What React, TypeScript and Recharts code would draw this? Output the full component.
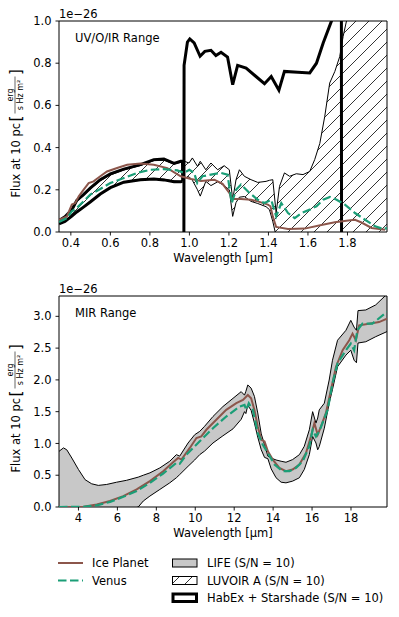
import React from "react";
import { ComposedChart, Area, Line, XAxis, YAxis, ReferenceArea } from "recharts";

const FONT = "'DejaVu Sans', Verdana, sans-serif";
const BROWN = "#8c564b";
const GREEN = "#1b9e77";
const GRAY = "#c8c8c8";

// ---- UV/O/IR panel (wavelength in µm, flux in units of 1e-26) ----
const habexVisWl = [0.34, 0.37, 0.405, 0.43, 0.464, 0.498, 0.549, 0.6, 0.668, 0.752, 0.82, 0.871, 0.922, 0.956, 0.965, 0.966];
const habexVisLo = [0.039, 0.05, 0.075, 0.095, 0.118, 0.142, 0.18, 0.21, 0.236, 0.248, 0.251, 0.247, 0.238, 0.238, 0.24, 0.24];
const habexVisHi = [0.055, 0.072, 0.105, 0.15, 0.177, 0.208, 0.248, 0.276, 0.298, 0.319, 0.343, 0.346, 0.325, 0.335, 0.335, 0.24];

const habexNirWl = [0.972, 0.973, 0.99, 1.002, 1.024, 1.054, 1.078, 1.109, 1.134, 1.16, 1.193, 1.219, 1.244, 1.287, 1.337, 1.38, 1.414, 1.453, 1.481, 1.549, 1.609, 1.643, 1.677, 1.719, 1.745, 1.769, 1.77];
const habexNirLo = [-0.05, -0.05, -0.05, -0.05, -0.05, -0.05, -0.05, -0.05, -0.05, -0.05, -0.05, -0.05, -0.05, -0.05, -0.05, -0.05, -0.05, -0.05, -0.05, -0.05, -0.05, -0.05, -0.05, -0.05, -0.05, -0.05, -0.05];
const habexNirHi = [-0.05, 0.79, 0.9, 0.915, 0.896, 0.833, 0.856, 0.861, 0.836, 0.852, 0.829, 0.698, 0.79, 0.777, 0.737, 0.703, 0.737, 0.672, 0.761, 0.757, 0.754, 0.8, 0.896, 1.0, 1.15, 1.3, -0.05];

const luvoirWl = [0.34, 0.37, 0.405, 0.43, 0.464, 0.498, 0.549, 0.6, 0.668, 0.752, 0.82, 0.871, 0.922, 0.956, 0.975, 0.998, 1.015, 1.041, 1.055, 1.083, 1.109, 1.143, 1.176, 1.202, 1.219, 1.236, 1.253, 1.278, 1.312, 1.346, 1.388, 1.405, 1.422, 1.439, 1.456, 1.481, 1.507, 1.541, 1.575, 1.609, 1.634, 1.66, 1.685, 1.71, 1.736, 1.761, 1.778, 1.795, 1.85, 2.0];
const luvoirLo = [0.042, 0.053, 0.078, 0.097, 0.12, 0.145, 0.182, 0.212, 0.237, 0.25, 0.253, 0.25, 0.242, 0.24, 0.255, 0.262, 0.245, 0.2, 0.17, 0.24, 0.22, 0.238, 0.22, 0.2, 0.074, 0.14, 0.165, 0.168, 0.145, 0.135, 0.12, 0.106, 0.05, -0.02, -0.02, -0.02, -0.02, -0.02, -0.02, -0.02, -0.02, -0.02, -0.02, -0.02, -0.02, -0.02, -0.02, -0.02, -0.02, -0.02];
const luvoirHi = [0.052, 0.07, 0.1, 0.145, 0.172, 0.203, 0.243, 0.27, 0.294, 0.315, 0.338, 0.34, 0.322, 0.33, 0.335, 0.327, 0.351, 0.311, 0.335, 0.295, 0.327, 0.295, 0.314, 0.295, 0.153, 0.248, 0.295, 0.264, 0.248, 0.235, 0.24, 0.245, 0.248, 0.09, 0.216, 0.28, 0.264, 0.276, 0.272, 0.287, 0.343, 0.42, 0.548, 0.706, 0.761, 0.832, 0.927, 1.0, 1.2, 1.5];

const iceTopWl = [0.34, 0.38, 0.405, 0.422, 0.44, 0.464, 0.49, 0.515, 0.549, 0.583, 0.634, 0.685, 0.752, 0.82, 0.888, 0.956, 1.008, 1.058, 1.126, 1.168, 1.202, 1.219, 1.261, 1.312, 1.346, 1.397, 1.41, 1.422, 1.439, 1.499, 1.583, 1.668, 1.736, 1.804, 1.838, 1.871, 1.922, 1.99];
const iceTopFlux = [0.057, 0.074, 0.13, 0.137, 0.169, 0.2, 0.232, 0.24, 0.264, 0.287, 0.303, 0.319, 0.325, 0.319, 0.303, 0.264, 0.251, 0.242, 0.248, 0.228, 0.185, 0.156, 0.156, 0.153, 0.145, 0.13, 0.122, 0.074, 0.024, 0.014, 0.016, 0.033, 0.046, 0.055, 0.058, 0.045, 0.019, 0.011];

const venusTopWl = [0.34, 0.38, 0.405, 0.43, 0.464, 0.498, 0.549, 0.6, 0.668, 0.735, 0.803, 0.871, 0.939, 0.973, 1.0, 1.024, 1.04, 1.066, 1.109, 1.16, 1.193, 1.214, 1.236, 1.261, 1.304, 1.346, 1.38, 1.414, 1.439, 1.465, 1.499, 1.533, 1.567, 1.609, 1.643, 1.677, 1.711, 1.745, 1.787, 1.838, 1.889, 1.94, 1.982, 2.0];
const venusTopFlux = [0.047, 0.066, 0.098, 0.114, 0.145, 0.177, 0.204, 0.232, 0.256, 0.28, 0.295, 0.298, 0.292, 0.28, 0.295, 0.28, 0.232, 0.264, 0.272, 0.28, 0.272, 0.137, 0.2, 0.225, 0.185, 0.153, 0.137, 0.153, 0.074, 0.137, 0.09, 0.066, 0.09, 0.106, 0.122, 0.153, 0.166, 0.153, 0.13, 0.09, 0.058, 0.027, 0.014, 0.019];

const topTicksX = [0.4, 0.6, 0.8, 1.0, 1.2, 1.4, 1.6, 1.8];
const topTicksY = [0, 0.2, 0.4, 0.6, 0.8, 1.0];

// ---- MIR panel ----
const lifeWl = [3.0, 3.23, 3.4, 3.66, 4.0, 4.34, 4.68, 5.02, 5.45, 5.96, 6.47, 7.07, 7.33, 7.67, 8.18, 8.69, 9.03, 9.2, 9.63, 9.97, 10.23, 10.48, 10.91, 11.42, 11.94, 12.36, 12.53, 12.6, 12.7, 12.87, 13.04, 13.21, 13.39, 13.56, 13.73, 13.9, 14.15, 14.41, 14.66, 15.0, 15.35, 15.6, 15.86, 16.03, 16.2, 16.29, 16.37, 16.63, 16.88, 17.05, 17.31, 17.74, 17.99, 18.16, 18.28, 18.36, 18.76, 19.27, 19.85];
const lifeLo = [-0.05, -0.05, -0.05, -0.05, -0.05, -0.05, -0.05, -0.05, -0.05, -0.05, -0.05, 0.0, 0.094, 0.172, 0.276, 0.38, 0.46, 0.51, 0.64, 0.74, 0.824, 0.88, 1.007, 1.12, 1.23, 1.38, 1.5, 1.47, 1.6, 1.52, 1.32, 1.1, 0.9, 0.78, 0.76, 0.6, 0.46, 0.39, 0.38, 0.407, 0.46, 0.59, 0.824, 1.11, 1.007, 0.9, 0.95, 1.24, 1.633, 1.85, 2.207, 2.39, 2.467, 2.31, 2.27, 2.58, 2.6, 2.68, 2.76];
const lifeHi = [0.876, 0.93, 0.9, 0.77, 0.59, 0.43, 0.365, 0.34, 0.355, 0.39, 0.42, 0.47, 0.5, 0.537, 0.615, 0.72, 0.824, 0.8, 1.007, 1.137, 1.19, 1.27, 1.424, 1.58, 1.71, 1.815, 1.76, 1.82, 1.92, 1.87, 1.74, 1.48, 1.15, 0.98, 0.8, 0.77, 0.74, 0.72, 0.704, 0.746, 0.824, 0.955, 1.215, 1.5, 1.32, 1.4, 1.528, 1.633, 1.998, 2.31, 2.624, 2.78, 2.937, 2.83, 2.78, 3.09, 3.1, 3.18, 3.35];

const iceMirWl = [3.0, 4.26, 4.94, 5.62, 6.3, 6.99, 7.67, 8.35, 8.86, 9.12, 9.29, 9.72, 10.06, 10.31, 10.57, 11.08, 11.59, 12.11, 12.45, 12.7, 12.87, 13.04, 13.21, 13.39, 13.56, 13.73, 13.98, 14.32, 14.66, 15.0, 15.35, 15.69, 15.94, 16.12, 16.29, 16.46, 16.71, 16.97, 17.23, 17.57, 17.91, 18.08, 18.25, 18.42, 18.93, 19.44, 19.85];
const iceMirFlux = [0.0, 0.005, 0.04, 0.094, 0.172, 0.276, 0.407, 0.563, 0.704, 0.772, 0.746, 0.929, 1.085, 1.11, 1.215, 1.372, 1.528, 1.633, 1.685, 1.763, 1.711, 1.528, 1.268, 1.059, 1.033, 0.876, 0.746, 0.616, 0.563, 0.59, 0.668, 0.85, 1.11, 1.32, 1.137, 1.268, 1.476, 1.84, 2.207, 2.467, 2.624, 2.728, 2.624, 2.858, 2.885, 2.91, 2.965];

const venusMirWl = [3.0, 4.26, 5.0, 5.62, 6.3, 6.99, 7.67, 8.35, 9.03, 9.2, 9.55, 10.23, 10.91, 11.59, 12.28, 12.53, 12.62, 12.75, 12.96, 13.21, 13.47, 13.73, 14.07, 14.49, 14.84, 15.18, 15.52, 15.86, 16.03, 16.2, 16.37, 16.8, 17.05, 17.31, 17.74, 17.99, 18.16, 18.33, 18.59, 19.1, 19.85];
const venusMirFlux = [0.0, 0.003, 0.03, 0.08, 0.16, 0.25, 0.38, 0.527, 0.694, 0.68, 0.824, 1.033, 1.24, 1.424, 1.58, 1.607, 1.528, 1.633, 1.528, 1.163, 0.98, 0.85, 0.668, 0.563, 0.563, 0.616, 0.72, 0.955, 1.215, 1.11, 1.19, 1.528, 1.946, 2.26, 2.467, 2.572, 2.467, 2.78, 2.885, 2.885, 3.07];

const mirTicksX = [4, 6, 8, 10, 12, 14, 16, 18];
const mirTicksY = [0, 0.5, 1.0, 1.5, 2.0, 2.5, 3.0];

const band = (wl: number[], lo: number[], hi: number[]) => wl.map((w, i) => ({ w, r: [lo[i], hi[i]] }));
const curve = (wl: number[], v: number[]) => wl.map((w, i) => ({ w, v: v[i] }));

const tickStyle = { fill: "#000", fontSize: 11.5, fontFamily: FONT };

function FluxLabel({ viewBox }: any) {
  const cx = viewBox.x + 15.5;
  const cy = viewBox.y + viewBox.height / 2;
  return (
    <g transform={`translate(${cx},${cy}) rotate(-90)`} fontFamily={FONT} fill="#000">
      <text x={-71} y={4} fontSize={11.5}>Flux at 10 pc</text>
      <text x={5} y={5} fontSize={15}>[</text>
      <text x={31.5} y={-2.2} fontSize={8} textAnchor="middle">erg</text>
      <line x1={13} x2={50} y1={-0.5} y2={-0.5} stroke="#000" strokeWidth={0.6} />
      <text x={31.5} y={7.2} fontSize={8} textAnchor="middle">s Hz m²</text>
      <text x={51.5} y={5} fontSize={15}>]</text>
    </g>
  );
}

function WlLabel({ viewBox }: any) {
  return (
    <text x={viewBox.x + viewBox.width / 2} y={viewBox.y + 30} textAnchor="middle" fontSize={11.5} fontFamily={FONT} fill="#000">
      Wavelength [µm]
    </text>
  );
}

function Panel(props: {
  xDomain: number[]; yDomain: number[]; xTicks: number[]; yTicks: number[];
  fmtX: (v: number) => string; title: string; children: React.ReactNode;
}) {
  const { xDomain, yDomain, xTicks, yTicks, fmtX, title, children } = props;
  return (
    <ComposedChart width={399} height={270} margin={{ top: 21, right: 12, bottom: 0, left: 0 }}>
      <defs>
        <pattern id="hatch" patternUnits="userSpaceOnUse" width={13} height={13}>
          <path d="M0,13 L13,0 M-3,3 L3,-3 M10,16 L16,10" stroke="#000" strokeWidth={0.8} />
        </pattern>
      </defs>
      <XAxis type="number" dataKey="w" domain={xDomain} ticks={xTicks} allowDataOverflow
        tickFormatter={fmtX} height={38} axisLine={false} tickSize={3.5} tickMargin={3}
        tickLine={{ stroke: "#000", strokeWidth: 0.9 }} tick={tickStyle}
        label={(p: any) => <WlLabel viewBox={p.viewBox} />} />
      <YAxis type="number" domain={yDomain} ticks={yTicks} allowDataOverflow width={59}
        tickFormatter={(v: number) => v.toFixed(1)} axisLine={false} tickSize={3.5} tickMargin={4}
        tickLine={{ stroke: "#000", strokeWidth: 0.9 }} tick={tickStyle}
        label={(p: any) => <FluxLabel viewBox={p.viewBox} />} />
      {children}
      <ReferenceArea x1={xDomain[0]} x2={xDomain[1]} y1={yDomain[0]} y2={yDomain[1]}
        fill="none" stroke="#000" strokeWidth={1} fillOpacity={0} />
      <text x={59} y={17.5} fontSize={11.5} fontFamily={FONT} fill="#000">1e−26</text>
      <text x={75} y={41.7} fontSize={11.5} fontFamily={FONT} fill="#000">{title}</text>
    </ComposedChart>
  );
}

export default function App() {
  return (
    <div style={{ position: "absolute", left: 0, top: 0, width: 399, height: 617, background: "#fff" }}>
      <div style={{ position: "absolute", left: 0, top: 0 }}>
        <Panel xDomain={[0.34, 2.0]} yDomain={[0, 1]} xTicks={topTicksX} yTicks={topTicksY}
          fmtX={(v) => v.toFixed(1)} title="UV/O/IR Range">
          <Area data={band(luvoirWl, luvoirLo, luvoirHi)} dataKey="r" type="linear" fill="url(#hatch)"
            fillOpacity={1} stroke="#000" strokeWidth={1} isAnimationActive={false} activeDot={false} />
          <Area data={band(habexVisWl, habexVisLo, habexVisHi)} dataKey="r" type="linear" fill="none"
            stroke="#000" strokeWidth={3} isAnimationActive={false} activeDot={false} />
          <Area data={band(habexNirWl, habexNirLo, habexNirHi)} dataKey="r" type="linear" fill="none"
            stroke="#000" strokeWidth={3} isAnimationActive={false} activeDot={false} />
          <Line data={curve(iceTopWl, iceTopFlux)} dataKey="v" type="linear" stroke={BROWN}
            strokeWidth={2} dot={false} activeDot={false} isAnimationActive={false} />
          <Line data={curve(venusTopWl, venusTopFlux)} dataKey="v" type="linear" stroke={GREEN}
            strokeWidth={2.2} strokeDasharray="8.5 3.5" dot={false} activeDot={false} isAnimationActive={false} />
        </Panel>
      </div>
      <div style={{ position: "absolute", left: 0, top: 275 }}>
        <Panel xDomain={[3, 19.85]} yDomain={[0, 3.32]} xTicks={mirTicksX} yTicks={mirTicksY}
          fmtX={(v) => String(v)} title="MIR Range">
          <Area data={band(lifeWl, lifeLo, lifeHi)} dataKey="r" type="linear" fill={GRAY}
            fillOpacity={1} stroke="#000" strokeWidth={1} isAnimationActive={false} activeDot={false} />
          <Line data={curve(iceMirWl, iceMirFlux)} dataKey="v" type="linear" stroke={BROWN}
            strokeWidth={2} dot={false} activeDot={false} isAnimationActive={false} />
          <Line data={curve(venusMirWl, venusMirFlux)} dataKey="v" type="linear" stroke={GREEN}
            strokeWidth={2.2} strokeDasharray="8.5 3.5" dot={false} activeDot={false} isAnimationActive={false} />
        </Panel>
      </div>
      <svg style={{ position: "absolute", left: 0, top: 545 }} width={399} height={70}
        fontFamily={FONT} fontSize={11.5}>
        <defs>
          <pattern id="hatchLegend" patternUnits="userSpaceOnUse" width={13} height={13} x={172}>
            <path d="M0,13 L13,0 M-3,3 L3,-3 M10,16 L16,10" stroke="#000" strokeWidth={0.8} />
          </pattern>
        </defs>
        <line x1={58} x2={83} y1={18} y2={18} stroke={BROWN} strokeWidth={2} />
        <text x={92} y={22.2}>Ice Planet</text>
        <line x1={58} x2={83} y1={35.5} y2={35.5} stroke={GREEN} strokeWidth={2.2} strokeDasharray="8.5 3.5" />
        <text x={92} y={39.7}>Venus</text>
        <rect x={172.5} y={14} width={24.5} height={8} fill={GRAY} stroke="#000" strokeWidth={1} />
        <text x={207} y={22.2}>LIFE (S/N = 10)</text>
        <rect x={172.5} y={31.5} width={24.5} height={8} fill="url(#hatchLegend)" stroke="#000" strokeWidth={1} />
        <text x={207} y={39.7}>LUVOIR A (S/N = 10)</text>
        <rect x={173} y={49} width={23.5} height={7.5} fill="#fff" stroke="#000" strokeWidth={3} />
        <text x={207} y={57.2}>HabEx + Starshade (S/N = 10)</text>
      </svg>
    </div>
  );
}
